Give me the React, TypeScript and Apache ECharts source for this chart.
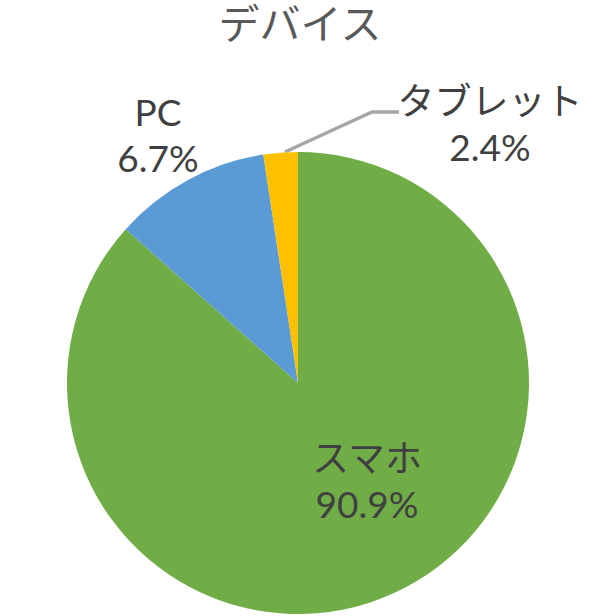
import React, { useEffect, useRef } from "react";
import * as echarts from "echarts";

const titleText = "デバイス";
const categories = ["スマホ", "PC", "タブレット"];
// slice sizes as drawn in the picture (degrees of arc / 360)
const sliceShares = [86.6, 11.0, 2.4];
// percentages printed on the labels
const percentLabels = ["90.9%", "6.7%", "2.4%"];
const sliceColors = ["#70AD47", "#5B9BD5", "#FFC000"];

const labelCenters = [
  [367, 480],
  [158, 134],
  [490, 123],
];
const tabletLeader = [
  [285, 152],
  [372, 112],
  [399, 112],
];

const FONT = "Lato, 'Noto Sans CJK JP', sans-serif";

export default function App() {
  const ref = useRef<HTMLDivElement>(null);
  useEffect(() => {
    document.body.style.margin = "0";
    if (!ref.current) return;
    const chart = echarts.init(ref.current, null, { renderer: "svg" });
    chart.setOption({
      animation: false,
      backgroundColor: "#ffffff",
      title: {
        text: titleText,
        left: "center",
        top: 0,
        padding: 0,
        textStyle: {
          fontFamily: FONT,
          fontSize: 41,
          fontWeight: "normal",
          color: "#595959",
          lineHeight: 46,
        },
      },
      series: [
        {
          type: "pie",
          center: [298, 383],
          radius: 231,
          startAngle: 90,
          clockwise: true,
          avoidLabelOverlap: false,
          itemStyle: { borderWidth: 0 },
          emphasis: { disabled: true },
          label: {
            show: true,
            position: "outside",
            fontFamily: FONT,
            fontSize: 37,
            lineHeight: 46,
            color: "#404040",
            align: "center",
            formatter: (p: any) => `${p.name}\n${percentLabels[p.dataIndex]}`,
          },
          labelLine: {
            show: false,
            lineStyle: { color: "#A6A6A6", width: 3.5 },
          },
          labelLayout: (params: any) => {
            const i = params.dataIndex;
            const res: any = {
              x: labelCenters[i][0],
              y: labelCenters[i][1],
              align: "center",
              verticalAlign: "middle",
            };
            if (i === 2) res.labelLinePoints = tabletLeader;
            return res;
          },
          data: categories.map((name, i) => ({
            name,
            value: sliceShares[i],
            itemStyle: { color: sliceColors[i] },
            labelLine: {
              show: i === 2,
              length: 20,
              length2: 20,
              lineStyle: { color: "#A6A6A6", width: 3.5 },
            },
          })),
        },
      ],
    });
    return () => chart.dispose();
  }, []);
  return <div ref={ref} style={{ width: 600, height: 616 }} />;
}
